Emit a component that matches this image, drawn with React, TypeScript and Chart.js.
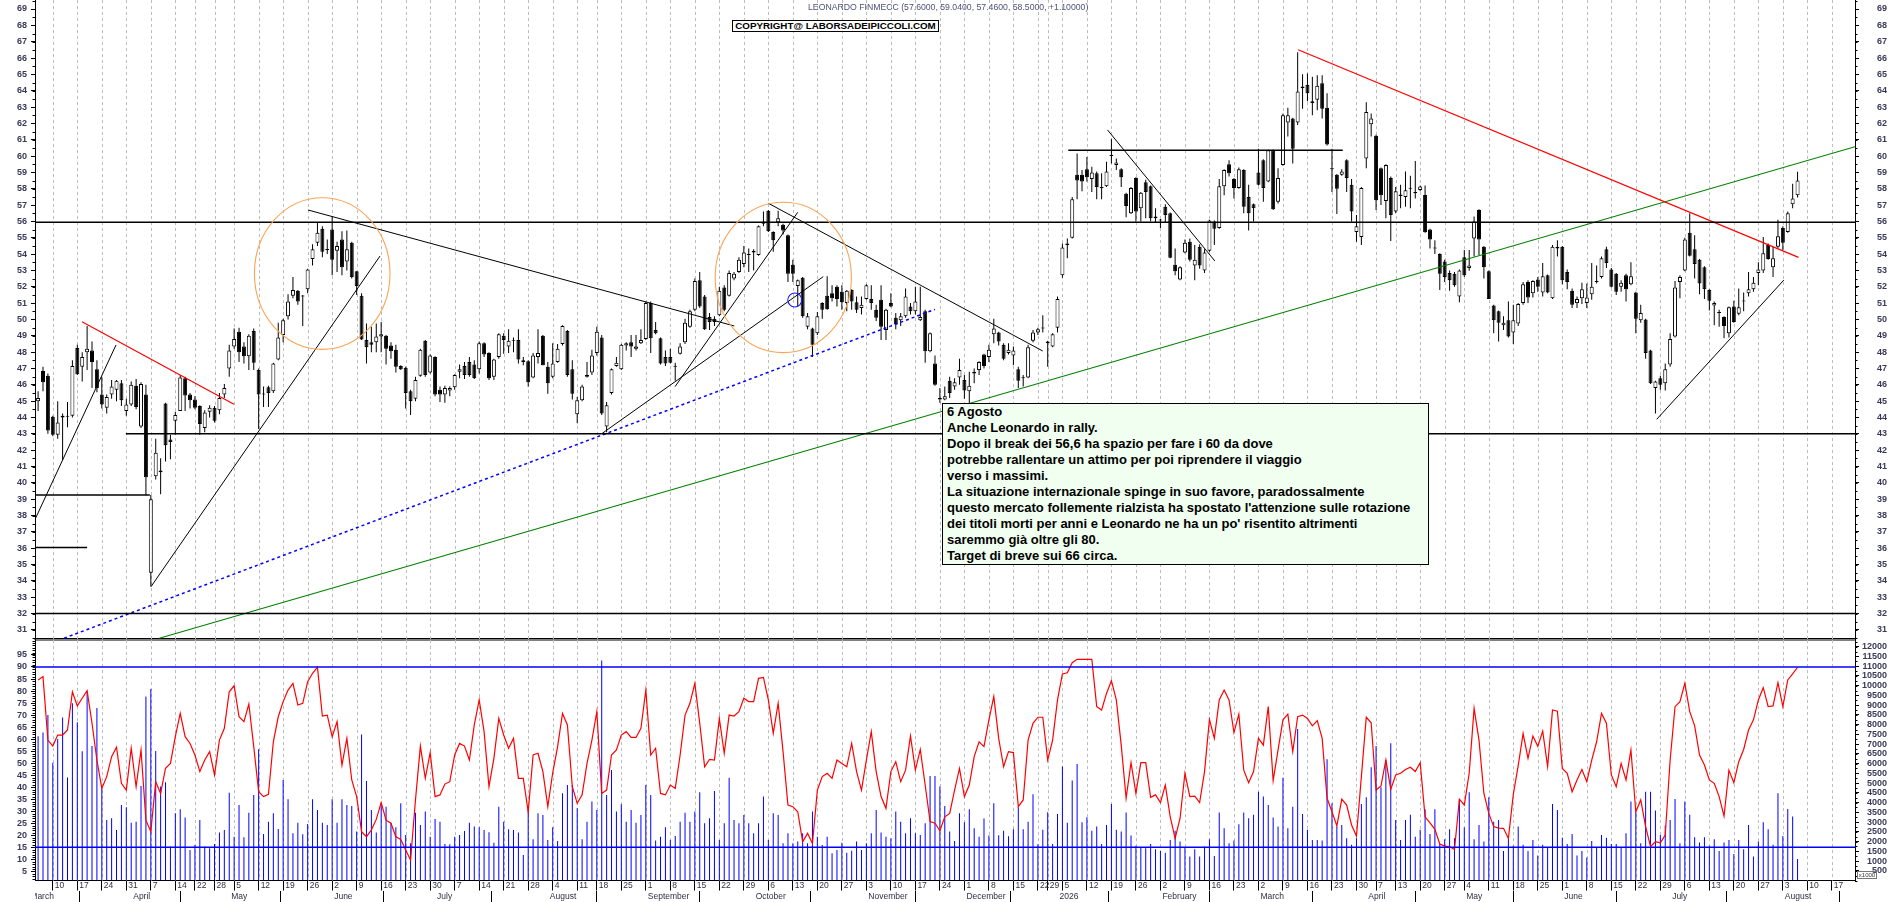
import React, { useEffect, useRef } from "react";
import { Chart, registerables } from "chart.js";

Chart.register(...registerables);

// ---------------- DATA (trading-day index 0 = 5 Mar 2025) ----------------
const OPEN = [
  45.0, 46.85, 46.55, 44.05, 42.95, 44.0, 44.1, 44.1, 48.25, 47.1,
  48.0, 48.1, 46.95, 45.4, 44.6, 45.4, 45.7, 46.1, 44.4, 44.8,
  45.95, 43.45, 45.4, 34.5, 40.4, 40.75, 44.85, 42.65, 43.8, 44.4,
  46.4, 45.4, 45.1, 44.7, 43.35, 44.35, 44.6, 44.45, 45.4, 47.0,
  48.35, 49.25, 48.35, 47.75, 49.3, 46.9, 45.45, 45.85, 45.6, 47.55,
  49.05, 50.2, 51.45, 51.75, 51.45, 51.85, 53.7, 54.7, 55.55, 54.3,
  55.5, 54.2, 54.9, 53.55, 54.7, 52.95, 51.45, 48.75, 48.6, 48.6,
  48.95, 49.0, 48.4, 48.15, 47.15, 47.05, 45.6, 45.15, 46.55, 48.7,
  46.75, 47.7, 45.7, 45.4, 45.65, 45.85, 46.8, 47.15, 47.4, 47.25,
  46.95, 48.55, 47.95, 46.5, 47.7, 49.0, 48.35, 48.7, 48.75, 47.5,
  47.45, 46.45, 47.7, 49.0, 47.1, 46.5, 47.4, 48.5, 49.3, 46.95,
  44.2, 45.05, 46.5, 46.75, 47.95, 48.9, 43.45, 45.5, 47.15, 46.95,
  48.4, 48.6, 48.2, 48.55, 48.8, 51.0, 49.35, 48.85, 47.7, 47.7,
  47.1, 47.9, 48.6, 49.55, 50.6, 52.4, 51.4, 50.15, 50.05, 50.25,
  51.95, 51.45, 52.5, 52.9, 53.4, 53.95, 54.2, 53.95, 56.0, 56.65,
  55.35, 55.95, 55.8, 55.15, 53.35, 52.05, 52.55, 49.55, 49.45, 49.15,
  51.0, 51.45, 51.6, 52.0, 51.7, 51.0, 51.8, 51.05, 50.7, 51.25,
  51.25, 50.6, 51.2, 49.35, 51.0, 50.1, 49.95, 50.2, 50.8, 50.5,
  49.95, 50.5, 48.05, 47.3, 45.2, 45.1, 46.25, 45.9, 46.45, 46.3,
  45.6, 46.8, 46.9, 47.85, 47.7, 49.1, 49.2, 48.45, 47.95, 47.8,
  46.95, 46.4, 46.45, 48.7, 49.2, 49.5, 48.65, 48.35, 49.5, 52.7,
  54.55, 55.0, 58.85, 58.85, 59.2, 58.6, 58.95, 58.05, 58.15, 60.0,
  59.45, 59.2, 57.7, 56.5, 58.65, 56.8, 58.4, 58.15, 56.2, 56.05,
  56.9, 56.5, 53.35, 52.45, 54.1, 54.75, 53.3, 54.45, 53.0, 54.2,
  56.0, 55.6, 58.15, 59.5, 58.6, 58.05, 59.15, 57.5, 57.05, 59.0,
  59.75, 58.45, 60.35, 57.2, 59.45, 62.05, 62.3, 62.05, 64.25, 64.35,
  63.25, 63.45, 64.45, 62.95, 59.2, 58.85, 58.85, 59.75, 58.25, 55.35,
  55.05, 59.85, 61.95, 61.25, 59.25, 57.25, 58.65, 56.6, 57.65, 57.5,
  58.0, 57.8, 57.92, 57.62, 55.5, 54.4, 54.0, 53.55, 52.85, 52.8,
  51.4, 53.8, 53.15, 54.95, 56.7, 54.45, 52.95, 50.85, 50.5, 49.65,
  49.95, 49.2, 49.75, 51.0, 52.3, 51.6, 52.45, 51.65, 52.7, 51.3,
  54.35, 54.45, 52.9, 51.75, 51.0, 51.3, 51.0, 51.55, 52.35, 52.6,
  54.3, 53.05, 52.8, 52.0, 52.7, 52.15, 51.65, 49.95, 50.0, 48.1,
  45.8, 46.4, 46.1, 47.25, 48.95, 52.3, 53.0, 55.3, 54.3, 53.65,
  53.2, 51.8, 50.85, 50.45, 50.15, 49.15, 50.8, 50.35, 51.15, 51.6,
  51.85, 52.85, 53.0, 54.55, 53.2, 54.45, 55.6, 55.35, 57.05, 57.6,
];
const HIGH = [
  45.6, 47.1, 46.7, 44.1, 45.0, 44.25, 44.95, 47.5, 48.45, 48.0,
  49.6, 48.65, 47.5, 46.5, 45.4, 46.3, 46.3, 46.3, 45.15, 46.2,
  46.35, 46.15, 46.0, 39.25, 42.7, 41.5, 44.9, 42.95, 44.35, 46.6,
  46.5, 45.5, 45.3, 44.75, 44.45, 44.75, 44.7, 45.5, 46.05, 48.45,
  49.45, 49.5, 48.6, 49.1, 49.45, 47.0, 45.9, 45.95, 47.35, 49.8,
  50.05, 51.55, 52.6, 51.8, 51.5, 53.1, 54.6, 55.95, 55.7, 54.9,
  56.3, 54.75, 55.4, 55.45, 54.75, 52.95, 51.6, 49.75, 49.55, 49.75,
  49.85, 49.05, 48.6, 48.45, 47.2, 47.1, 45.7, 46.5, 48.2, 48.75,
  47.85, 47.75, 45.9, 45.95, 45.9, 46.65, 47.25, 47.4, 47.7, 47.5,
  48.65, 48.6, 48.0, 47.6, 49.15, 49.15, 49.4, 48.9, 49.4, 47.7,
  47.5, 47.95, 49.4, 49.05, 47.4, 48.55, 48.5, 49.65, 49.35, 47.5,
  45.25, 46.0, 47.4, 48.15, 49.55, 49.05, 44.95, 47.0, 47.7, 48.5,
  48.6, 49.05, 49.05, 49.4, 51.1, 51.1, 49.85, 48.9, 48.1, 48.2,
  47.35, 48.55, 50.05, 50.6, 52.5, 52.9, 51.5, 50.4, 50.2, 52.0,
  52.1, 53.0, 52.9, 53.8, 54.5, 54.35, 54.3, 55.75, 56.6, 56.7,
  55.4, 56.65, 55.85, 55.2, 53.65, 52.45, 52.6, 50.4, 49.5, 50.45,
  51.05, 52.65, 52.1, 52.1, 52.1, 51.8, 51.85, 51.4, 51.4, 52.15,
  52.1, 50.9, 52.1, 50.65, 51.6, 50.4, 50.4, 51.9, 51.0, 52.0,
  52.0, 50.6, 49.2, 47.8, 45.8, 45.9, 46.5, 46.4, 47.6, 46.6,
  46.8, 47.0, 47.45, 47.9, 48.45, 50.05, 49.25, 48.55, 48.55, 48.35,
  47.1, 46.6, 48.45, 49.35, 49.5, 50.25, 48.7, 49.15, 51.4, 54.65,
  54.95, 57.5, 60.15, 59.15, 59.95, 59.35, 59.05, 58.95, 59.65, 61.05,
  59.85, 59.25, 57.75, 58.1, 58.7, 57.8, 58.55, 58.2, 56.8, 56.15,
  57.05, 56.55, 54.35, 53.25, 54.9, 54.95, 54.55, 54.6, 54.3, 56.1,
  56.05, 58.6, 59.2, 59.75, 58.65, 59.3, 59.2, 58.25, 57.1, 60.45,
  59.8, 60.4, 60.4, 59.25, 62.6, 62.95, 62.35, 66.35, 65.0, 65.05,
  64.85, 64.95, 64.95, 63.85, 60.45, 58.9, 59.2, 59.8, 58.6, 56.4,
  58.1, 63.3, 62.6, 61.3, 59.3, 59.5, 58.75, 58.1, 58.25, 59.05,
  58.8, 59.7, 58.2, 58.2, 55.55, 54.85, 54.05, 53.65, 53.0, 52.9,
  53.05, 54.25, 54.25, 56.3, 56.75, 54.5, 53.0, 50.9, 50.55, 50.2,
  51.1, 50.9, 51.0, 52.3, 52.4, 52.4, 52.6, 53.45, 52.75, 54.55,
  54.85, 54.5, 53.05, 51.9, 51.4, 52.25, 52.2, 53.45, 53.3, 53.85,
  54.45, 53.15, 52.85, 52.4, 52.8, 53.5, 51.7, 50.9, 50.05, 48.15,
  46.25, 46.55, 47.3, 49.15, 52.35, 52.7, 55.0, 56.5, 55.15, 53.7,
  53.25, 51.85, 51.1, 50.6, 50.2, 50.8, 51.15, 51.9, 51.65, 52.9,
  52.6, 53.5, 55.05, 54.65, 54.45, 56.1, 55.7, 56.6, 58.3, 59.04,
];
const LOW = [
  44.4, 45.6, 43.0, 42.85, 42.7, 41.4, 43.4, 44.0, 46.6, 46.2,
  46.9, 45.8, 45.55, 44.55, 44.25, 45.15, 45.0, 44.7, 44.1, 44.7,
  44.5, 43.35, 39.25, 33.65, 40.2, 39.3, 41.3, 41.45, 42.95, 44.4,
  44.4, 44.55, 44.5, 42.95, 43.1, 44.0, 43.7, 44.2, 45.2, 46.5,
  48.2, 47.4, 47.3, 46.9, 46.9, 43.3, 44.65, 44.65, 45.5, 47.5,
  48.6, 50.0, 51.3, 50.9, 49.6, 51.6, 53.3, 54.5, 53.8, 54.0,
  52.7, 52.9, 52.7, 53.0, 52.5, 51.5, 48.75, 47.3, 48.0, 48.0,
  48.0, 47.25, 47.6, 46.75, 46.9, 44.55, 44.15, 45.0, 46.5, 46.5,
  46.7, 45.3, 44.95, 44.9, 45.3, 45.7, 46.4, 46.35, 46.5, 46.35,
  46.7, 47.7, 46.3, 46.3, 47.6, 47.9, 47.95, 48.0, 47.3, 47.2,
  45.9, 46.4, 47.3, 47.2, 45.45, 46.4, 47.35, 48.4, 46.5, 45.1,
  43.65, 45.0, 46.45, 46.6, 47.8, 44.15, 43.1, 45.4, 47.1, 46.9,
  48.1, 47.7, 48.1, 48.5, 48.75, 47.95, 49.1, 47.25, 47.15, 47.3,
  46.25, 47.85, 48.5, 49.5, 50.5, 50.7, 49.35, 49.35, 49.6, 50.2,
  50.5, 51.4, 52.4, 52.85, 53.2, 52.9, 53.0, 53.9, 55.7, 55.35,
  54.15, 55.7, 55.2, 52.3, 52.3, 50.8, 50.1, 49.4, 47.7, 49.05,
  50.05, 50.6, 51.1, 50.8, 50.6, 50.5, 50.6, 50.4, 50.3, 51.2,
  50.6, 49.9, 48.75, 48.75, 50.75, 49.4, 49.6, 50.1, 50.3, 50.3,
  49.9, 47.35, 48.0, 45.95, 44.9, 45.05, 45.2, 45.7, 46.0, 45.15,
  44.85, 46.1, 46.6, 47.0, 47.4, 48.55, 48.4, 47.5, 47.85, 47.2,
  45.8, 45.9, 46.4, 48.6, 49.05, 49.2, 47.1, 48.3, 49.2, 52.55,
  53.75, 54.95, 57.35, 57.85, 58.45, 57.8, 57.35, 57.35, 58.1, 59.55,
  59.15, 58.1, 56.25, 56.45, 56.0, 56.0, 56.2, 56.0, 55.9, 55.6,
  55.9, 53.75, 52.7, 52.4, 54.05, 53.55, 52.4, 53.1, 52.85, 54.15,
  54.55, 55.55, 57.6, 58.75, 57.4, 58.0, 56.5, 55.45, 56.0, 58.2,
  57.2, 58.4, 56.7, 57.1, 59.4, 61.2, 59.55, 61.9, 62.9, 63.35,
  62.5, 62.8, 62.3, 60.65, 57.8, 56.45, 58.8, 57.8, 56.0, 54.75,
  54.55, 59.25, 61.2, 56.7, 57.0, 56.2, 54.8, 56.5, 56.8, 56.9,
  56.8, 57.4, 57.85, 55.3, 54.35, 54.0, 51.8, 52.3, 51.75, 52.0,
  51.05, 52.6, 52.98, 53.85, 53.95, 52.5, 51.25, 49.15, 48.65, 49.35,
  48.9, 48.5, 49.6, 50.9, 51.0, 51.35, 51.7, 51.4, 51.6, 51.25,
  53.85, 52.15, 51.85, 50.7, 50.7, 50.95, 50.7, 51.2, 52.2, 52.5,
  53.15, 51.95, 51.5, 51.7, 51.1, 52.1, 49.15, 49.8, 47.6, 46.05,
  44.25, 45.7, 45.65, 47.1, 48.9, 51.3, 52.95, 53.85, 52.5, 51.55,
  51.25, 50.55, 49.65, 49.55, 48.85, 48.9, 49.8, 50.25, 50.5, 51.4,
  51.7, 52.1, 52.85, 53.65, 52.6, 54.35, 54.25, 55.3, 56.8, 57.46,
];
const CLOSE = [
  45.2, 46.15, 43.2, 42.95, 43.7, 44.1, 44.05, 47.15, 46.65, 47.7,
  48.2, 47.4, 45.8, 44.8, 45.25, 45.9, 46.25, 45.05, 44.8, 46.0,
  44.65, 46.05, 40.35, 39.0, 41.85, 40.65, 42.3, 42.5, 44.15, 46.45,
  45.35, 45.05, 44.6, 43.6, 44.3, 44.6, 43.8, 45.2, 45.8, 48.1,
  48.8, 48.0, 47.75, 49.0, 47.35, 45.4, 45.4, 45.5, 47.3, 48.9,
  49.95, 51.1, 51.8, 51.1, 51.4, 53.05, 54.3, 55.3, 54.15, 54.25,
  53.65, 54.5, 53.2, 54.3, 52.6, 52.05, 48.78, 48.3, 48.45, 48.95,
  49.1, 48.2, 48.05, 47.1, 46.95, 45.5, 45.0, 46.3, 48.15, 46.6,
  47.8, 45.4, 45.4, 45.8, 45.8, 46.6, 46.95, 46.6, 46.6, 46.4,
  48.55, 47.85, 46.4, 47.55, 49.1, 48.75, 48.7, 48.72, 47.55, 47.4,
  46.15, 47.8, 47.95, 47.2, 46.1, 47.3, 48.2, 49.6, 46.6, 45.45,
  45.05, 45.9, 46.6, 47.8, 49.25, 44.25, 44.75, 46.95, 47.35, 48.45,
  48.55, 48.35, 48.35, 48.75, 51.0, 48.85, 49.15, 47.3, 47.3, 47.35,
  47.15, 48.35, 49.8, 50.5, 52.35, 50.8, 49.4, 49.85, 49.85, 51.75,
  50.6, 52.85, 52.8, 53.65, 54.1, 54.0, 54.1, 55.7, 55.85, 55.4,
  54.85, 56.2, 55.45, 52.8, 52.8, 52.4, 50.2, 50.2, 48.45, 50.2,
  50.6, 50.62, 51.3, 51.25, 51.05, 51.75, 51.1, 50.6, 50.9, 52.1,
  51.0, 50.1, 49.55, 50.6, 50.8, 49.7, 50.2, 51.4, 50.5, 51.1,
  50.15, 48.05, 49.15, 46.0, 45.1, 45.3, 45.5, 46.15, 46.9, 45.65,
  45.95, 46.7, 47.4, 47.15, 48.15, 49.45, 48.65, 47.6, 48.15, 48.1,
  46.25, 46.45, 48.3, 49.2, 49.4, 49.45, 48.55, 49.1, 51.25, 54.4,
  54.65, 57.35, 58.5, 58.45, 58.7, 59.0, 58.1, 58.1, 59.05, 60.05,
  59.6, 58.7, 56.95, 58.05, 56.6, 57.75, 57.8, 56.2, 56.3, 56.1,
  56.4, 53.78, 52.95, 53.2, 54.7, 53.65, 53.65, 53.3, 54.1, 56.05,
  55.55, 58.15, 59.15, 58.95, 58.05, 59.2, 56.9, 56.5, 56.8, 58.25,
  58.05, 60.35, 56.75, 58.65, 62.5, 62.5, 60.45, 63.95, 64.15, 63.85,
  63.35, 64.3, 62.9, 60.7, 59.22, 58.0, 59.05, 58.65, 56.6, 55.7,
  58.05, 62.7, 62.3, 57.3, 57.6, 59.45, 56.4, 57.85, 57.55, 57.9,
  58.02, 57.72, 58.13, 55.33, 54.9, 54.35, 52.8, 52.6, 52.4, 52.1,
  53.0, 52.7, 53.3, 56.0, 54.9, 53.2, 51.25, 49.95, 49.8, 49.8,
  48.95, 49.95, 50.95, 52.15, 51.35, 52.35, 52.0, 52.65, 51.65, 54.45,
  54.45, 52.4, 52.3, 50.9, 51.25, 51.85, 51.35, 52.0, 52.3, 53.75,
  53.45, 52.0, 51.7, 52.25, 51.85, 52.65, 50.05, 50.4, 47.95, 46.1,
  46.2, 46.0, 46.95, 48.8, 51.95, 52.6, 54.9, 53.9, 53.4, 52.2,
  51.85, 51.15, 51.0, 50.4, 49.6, 50.75, 49.85, 50.75, 51.1, 51.85,
  52.25, 53.05, 54.05, 53.7, 53.75, 55.1, 54.7, 56.5, 57.4, 58.5,
];
// volume in thousands of shares
const VOLUME = [
  7400, 7600, 8500, 6050, 7260, 8370, 5290, 9100, 8130, 6640,
  9700, 6900, 8850, 4730, 3110, 3190, 2590, 3880, 3760, 2970,
  3020, 4850, 9440, 9830, 6650, 4820, 5040, 1740, 3450, 3660,
  3230, 1570, 1820, 3110, 1740, 1650, 1880, 2460, 2590, 4510,
  2250, 3880, 2220, 3480, 4390, 6740, 2390, 3020, 3450, 2650,
  5160, 4170, 2420, 2970, 2370, 2900, 4170, 3620, 2970, 2850,
  4170, 2970, 4170, 3880, 3830, 2510, 7500, 5110, 3620, 2460,
  3960, 3790, 2970, 2730, 3960, 2340, 1910, 3480, 2850, 3540,
  2250, 3160, 3020, 1880, 1860, 2250, 2340, 2540, 2970, 2770,
  2730, 2590, 2480, 1940, 3790, 3020, 2630, 2590, 2460, 1310,
  3790, 2120, 3450, 3360, 2080, 2730, 2030, 4480, 4900, 4900,
  3710, 2120, 3020, 4050, 3620, 11290, 4390, 5670, 3540, 3910,
  3020, 3620, 2970, 3360, 4900, 4390, 2050, 2250, 2730, 2080,
  2290, 3020, 3480, 3020, 3540, 4530, 2940, 3190, 4600, 2080,
  2940, 5280, 3110, 2940, 3360, 2940, 2420, 2940, 4310, 2080,
  3450, 3360, 1910, 2420, 1910, 2000, 2420, 1910, 3540, 2250,
  1820, 2250, 1400, 1570, 1940, 1430, 1530, 2000, 1570, 1910,
  2420, 3620, 2460, 2250, 2170, 3540, 3020, 2420, 3190, 2420,
  2340, 2940, 5370, 5370, 4820, 3830, 2510, 2030, 3450, 2990,
  3660, 2680, 2250, 3180, 2310, 3970, 2320, 2550, 2270, 2630,
  3760, 2630, 3020, 4430, 1860, 2600, 3500, 1880, 3420, 5850,
  2970, 5130, 5980, 2990, 3250, 2560, 2770, 1880, 2850, 3930,
  2600, 2510, 3490, 2310, 1780, 1710, 1660, 1880, 1600, 1520,
  1430, 2080, 2560, 2000, 1710, 1230, 1600, 1230, 1740, 2120,
  1260, 3490, 2680, 1910, 2050, 2890, 3490, 3200, 3370, 4560,
  4310, 3880, 3230, 2770, 5280, 2680, 3790, 7780, 3420, 2600,
  2080, 2080, 2050, 6220, 3970, 2770, 2850, 2170, 1830, 2170,
  3930, 4270, 5810, 6910, 4790, 6190, 7050, 3110, 2080, 3110,
  3370, 2250, 2600, 3660, 2390, 3660, 1880, 2120, 2630, 2170,
  4170, 2720, 4530, 2120, 2850, 2000, 4270, 3020, 3110, 1520,
  2200, 1780, 2770, 1830, 1520, 2080, 1280, 1830, 1710, 3930,
  3620, 2200, 1880, 2390, 1280, 1520, 1180, 2030, 1710, 2340,
  2200, 1880, 1880, 1710, 2430, 4050, 3540, 1910, 4560, 4560,
  3590, 2340, 2820, 3110, 4190, 1910, 4050, 3370, 2220, 1950,
  2220, 1780, 2120, 1520, 1950, 2080, 1360, 2080, 1600, 2850,
  1230, 2000, 2990, 2630, 1830, 4480, 2290, 3670, 3280, 1110,
];
// oscillator (left scale of the lower pane)
const OSC = [
  84.6, 86.0, 59.6, 57.1, 61.7, 61.7, 63.8, 79.7, 73.8, 77.0,
  80.2, 66.6, 51.3, 39.5, 44.4, 52.7, 56.6, 41.6, 38.8, 56.2,
  40.2, 55.5, 26.3, 21.5, 42.3, 37.4, 47.9, 49.9, 61.0, 70.7,
  61.0, 58.2, 53.4, 46.5, 51.3, 54.8, 45.1, 59.6, 64.5, 79.7,
  82.2, 69.3, 67.3, 74.6, 56.9, 38.1, 36.1, 37.0, 58.9, 69.3,
  75.6, 80.4, 83.2, 74.2, 74.9, 83.9, 87.4, 89.9, 69.6, 70.0,
  61.0, 67.3, 49.2, 60.3, 43.0, 36.1, 21.5, 19.4, 22.2, 26.6,
  33.6, 26.3, 25.0, 19.4, 18.3, 13.9, 9.7, 34.7, 57.1, 43.7,
  54.4, 36.1, 36.8, 41.3, 42.3, 53.4, 58.2, 57.1, 51.3, 65.9,
  76.3, 63.1, 40.2, 52.0, 68.6, 61.7, 56.2, 60.3, 43.7, 43.7,
  29.8, 53.4, 54.1, 46.5, 31.9, 46.0, 56.9, 70.7, 65.9, 40.2,
  33.3, 36.8, 49.9, 59.6, 71.4, 37.4, 38.8, 53.4, 55.5, 61.7,
  63.1, 60.7, 60.7, 64.5, 80.4, 53.4, 56.2, 37.4, 36.8, 40.9,
  39.5, 53.4, 70.0, 74.9, 83.2, 66.6, 48.5, 51.6, 51.3, 68.6,
  54.1, 70.0, 69.6, 71.4, 77.0, 75.6, 75.6, 85.3, 85.7, 76.3,
  62.4, 74.9, 54.8, 32.6, 31.9, 29.8, 17.3, 20.8, 16.6, 38.8,
  44.4, 45.8, 43.7, 51.3, 49.9, 48.5, 58.2, 46.5, 38.8, 51.3,
  63.1, 46.5, 36.1, 31.2, 46.5, 50.6, 42.3, 47.1, 61.3, 47.1,
  55.7, 40.9, 25.7, 25.0, 21.9, 27.7, 29.1, 38.8, 47.8, 36.1,
  40.9, 52.7, 58.9, 56.9, 68.0, 77.7, 60.3, 48.5, 54.8, 54.4,
  31.9, 34.7, 59.6, 66.6, 69.1, 69.1, 51.3, 59.6, 76.3, 87.1,
  87.6, 91.8, 93.2, 93.2, 93.2, 93.2, 73.5, 72.1, 79.0, 84.3,
  76.3, 57.5, 35.4, 50.2, 37.4, 50.2, 50.2, 35.8, 36.8, 33.6,
  40.9, 27.7, 18.7, 27.0, 45.8, 36.1, 36.3, 33.6, 46.5, 68.2,
  60.3, 76.3, 80.4, 76.3, 62.7, 70.4, 47.1, 41.9, 46.5, 60.3,
  57.5, 73.5, 42.7, 55.5, 68.0, 70.4, 54.8, 69.3, 70.0, 68.6,
  65.5, 67.7, 60.3, 35.4, 29.8, 23.9, 35.0, 32.6, 24.3, 19.7,
  44.4, 69.1, 66.8, 38.8, 40.5, 51.3, 39.1, 45.1, 45.8, 47.4,
  48.3, 46.5, 50.2, 27.7, 25.2, 22.5, 16.4, 15.5, 15.3, 14.1,
  35.0, 32.6, 45.8, 72.8, 59.6, 37.4, 29.1, 23.6, 23.0, 22.9,
  18.7, 37.0, 49.0, 62.3, 52.0, 61.3, 57.0, 63.3, 48.6, 72.1,
  71.6, 47.8, 45.8, 38.1, 43.0, 47.4, 42.3, 51.3, 58.9, 70.7,
  66.6, 45.1, 40.2, 49.9, 43.0, 55.5, 29.8, 34.7, 23.6, 15.3,
  17.3, 16.9, 20.1, 51.3, 73.5, 75.6, 83.2, 71.4, 65.6, 53.4,
  49.2, 43.0, 41.6, 36.1, 28.0, 47.1, 41.9, 50.6, 55.7, 63.8,
  68.0, 76.3, 81.4, 73.5, 73.8, 83.5, 73.5, 84.6, 87.1, 89.9,
];
const OSC_LEVELS = [90, 15];

// weekly ticks (first trading day of each week) and their day-of-month labels
const WEEK_TICKS = [
  3, 8, 13, 18, 23, 28, 32, 36, 40, 45, 50, 55, 60, 65, 70, 75, 80, 85, 90, 95,
  100, 105, 110, 114, 119, 124, 129, 134, 139, 144, 149, 154, 159, 164, 169, 174, 179, 184, 189, 194,
  199, 204, 206, 209, 214, 219, 224, 229, 234, 239, 244, 249, 254, 259, 264, 269, 273, 277, 282, 287,
  291, 296, 301, 306, 311, 316, 321, 326, 331, 336, 341, 346, 351, 356, 361, 366,
];
const WEEK_LABELS = [
  "10", "17", "24", "31", "7", "14", "22", "28", "5", "12", "19", "26", "2", "9", "16", "23", "30", "7", "14", "21",
  "28", "4", "11", "18", "25", "1", "8", "15", "22", "29", "6", "13", "20", "27", "3", "10", "17", "24", "1", "8",
  "15", "22", "29", "5", "12", "19", "26", "2", "9", "16", "23", "2", "9", "16", "23", "30", "7", "13", "20", "27",
  "4", "11", "18", "25", "1", "8", "15", "22", "29", "6", "13", "20", "27", "3", "10", "17",
];
const MONTH_TICKS = [-2, 19, 39, 60, 81, 104, 124, 146, 169, 189, 208, 229, 249, 271, 291, 311, 333, 356];
const MONTH_LABELS = [
  "March", "April", "May", "June", "July", "August", "September", "October", "November", "December",
  "2026", "February", "March", "April", "May", "June", "July", "August",
];

// hand-drawn analysis lines, in data units [x1, y1, x2, y2]
const LEVEL_LINES = [
  [-0.632, 55.95, 370.72, 55.95],
  [17.9, 43.0, 370.72, 43.0],
  [-0.632, 39.25, 22.8, 39.25],
  [-0.632, 36.05, 10.0, 36.05],
  [-0.632, 32.0, 370.72, 32.0],
  [210.2, 60.35, 266.2, 60.35],
];
const BLACK_TRENDS = [
  [-0.49, 37.85, 15.9, 48.44],
  [23.04, 33.65, 69.76, 53.88],
  [55.07, 56.7, 142.05, 49.6],
  [115.1, 43.03, 160.2, 52.62],
  [129.96, 45.89, 155.0, 56.56],
  [149.0, 57.11, 204.98, 48.07],
  [218.2, 61.6, 240.1, 53.58],
  [330.26, 43.89, 356.2, 52.41],
];
const RED_TRENDS = [
  [8.96, 49.86, 39.97, 44.81],
  [257.1, 66.51, 359.2, 53.8],
];
const GREEN_TRENDS = [[24.73, 30.49, 370.72, 60.57]];
const BLUE_DASHED = [[5.29, 30.49, 183.0, 50.62]];
// ellipses: centre x, centre y, radius x (days), radius y (price)
const ORANGE_ELLIPSES = [
  [57.97, 52.81, 13.83, 4.64],
  [152.05, 52.57, 13.9, 4.6],
];
const BLUE_CIRCLES = [[154.4, 51.19, 1.43, 0.43]];

const NOTE_LINES = [
  "6 Agosto",
  "Anche Leonardo in rally.",
  "Dopo il break dei 56,6 ha spazio per fare i 60 da dove",
  "potrebbe rallentare un attimo per poi riprendere il viaggio",
  "verso i massimi.",
  "La situazione internazionale spinge in suo favore, paradossalmente",
  "questo mercato follemente rialzista ha spostato l'attenzione sulle rotazione",
  "dei titoli morti per anni e Leonardo ne ha un po' risentito altrimenti",
  "saremmo già oltre gli 80.",
  "Target di breve sui 66 circa.",
];
const TITLE = "LEONARDO FINMECC (57.6000, 59.0400, 57.4600, 58.5000, +1.10000)";
const COPYRIGHT = "COPYRIGHT@ LABORSADEIPICCOLI.COM";

// ---------------- axis ranges / styles ----------------
const X_MIN = -0.632;
const X_MAX = 370.72;
const PRICE_MIN = 30.444;
const PRICE_MAX = 69.551;
const OSC_MIN = 1.19;
const OSC_MAX = 101.23;
const VOL_MAX = 12347;
const GRID_COLOR = "#bdbdbd";
const LABEL_COLOR = "#3a3a58";
const FONT = "'Liberation Sans', Arial, sans-serif";

function range(a: number, b: number, step: number) {
  const out: number[] = [];
  for (let v = a; v <= b + 1e-9; v += step) out.push(Math.round(v * 1000) / 1000);
  return out;
}
const PRICE_TICKS = range(31, 69, 1);
const OSC_TICKS = range(5, 95, 5);
const VOL_TICKS = range(500, 12000, 500);

function drawMinorTicks(chart: any, id: string, step: number, len: number, side: string) {
  const sc = chart.scales[id];
  const ctx = chart.ctx;
  ctx.save();
  ctx.strokeStyle = "#000";
  ctx.lineWidth = 1;
  ctx.beginPath();
  const n0 = Math.ceil(sc.min / step);
  const n1 = Math.floor(sc.max / step);
  for (let n = n0; n <= n1; n++) {
    const y = Math.round(sc.getPixelForValue(n * step)) + 0.5;
    if (side === "left") {
      ctx.moveTo(sc.right - len, y);
      ctx.lineTo(sc.right, y);
    } else {
      ctx.moveTo(sc.left, y);
      ctx.lineTo(sc.left + len, y);
    }
  }
  ctx.stroke();
  ctx.restore();
}

// weekly dashed grid, positioned through the x scale
function drawWeekGrid(chart: any) {
  const { ctx, chartArea, scales } = chart;
  const x = scales.x;
  ctx.save();
  ctx.strokeStyle = GRID_COLOR;
  ctx.lineWidth = 1;
  ctx.setLineDash([3, 3]);
  ctx.beginPath();
  for (const v of WEEK_TICKS) {
    const px = Math.round(x.getPixelForValue(v)) + 0.5;
    if (px < chartArea.left || px > chartArea.right) continue;
    ctx.moveTo(px, chartArea.top);
    ctx.lineTo(px, chartArea.bottom);
  }
  ctx.stroke();
  ctx.restore();
}

function segDatasets(list: number[][], color: string, width: number, dash: number[] = []) {
  return list.map((p) => ({
    type: "line",
    data: [
      { x: p[0], y: p[1] },
      { x: p[2], y: p[3] },
    ],
    borderColor: color,
    borderWidth: width,
    borderDash: dash,
    pointRadius: 0,
    fill: false,
    tension: 0,
    xAxisID: "x",
    yAxisID: "y",
    order: 0,
  }));
}

const noFitPad = (s: any) => {
  s.paddingTop = 0;
  s.paddingBottom = 0;
  s.paddingLeft = 0;
  s.paddingRight = 0;
};

export default function App() {
  const refA = useRef<HTMLCanvasElement>(null);
  const refB = useRef<HTMLCanvasElement>(null);

  useEffect(() => {
    Chart.defaults.font.family = FONT;

    const bodies = {
      type: "bar",
      data: OPEN.map((o, i) => ({ x: i, y: [o, CLOSE[i]] })),
      backgroundColor: OPEN.map((o, i) => (CLOSE[i] >= o ? "#ffffff" : "#000000")),
      borderColor: "#000000",
      borderWidth: 1,
      borderSkipped: false,
      barThickness: 4,
      minBarLength: 1,
      inflateAmount: 0,
      grouped: false,
      order: 1,
    };
    const wicks = {
      type: "bar",
      data: LOW.map((l, i) => ({ x: i, y: [l, HIGH[i]] })),
      backgroundColor: "#000000",
      borderWidth: 0,
      barThickness: 1,
      inflateAmount: 0,
      grouped: false,
      order: 2,
    };

    const shapesPlugin = {
      id: "shapes",
      beforeDatasetsDraw(chart: any) {
        drawWeekGrid(chart);
      },
      afterDatasetsDraw(chart: any) {
        const { ctx, chartArea, scales } = chart;
        const x = scales.x;
        const y = scales.y;
        ctx.save();
        ctx.beginPath();
        ctx.rect(chartArea.left, chartArea.top, chartArea.right - chartArea.left, chartArea.bottom - chartArea.top);
        ctx.clip();
        const drawEll = (list: number[][], color: string, w: number) => {
          for (const e of list) {
            const cx = x.getPixelForValue(e[0]);
            const cy = y.getPixelForValue(e[1]);
            const rx = Math.abs(x.getPixelForValue(e[0] + e[2]) - cx);
            const ry = Math.abs(y.getPixelForValue(e[1] + e[3]) - cy);
            ctx.beginPath();
            ctx.ellipse(cx, cy, rx, ry, 0, 0, Math.PI * 2);
            ctx.strokeStyle = color;
            ctx.lineWidth = w;
            ctx.stroke();
          }
        };
        drawEll(ORANGE_ELLIPSES, "#f9a555", 1.1);
        drawEll(BLUE_CIRCLES, "#1a1aff", 1.1);
        ctx.restore();
        drawMinorTicks(chart, "y", 0.5, 2.5, "left");
        drawMinorTicks(chart, "yR", 0.5, 2.5, "right");
      },
    };

    const priceAxis = (pos: string, width: number) => ({
      type: "linear",
      position: pos,
      min: PRICE_MIN,
      max: PRICE_MAX,
      afterBuildTicks: (s: any) => {
        s.ticks = PRICE_TICKS.map((v) => ({ value: v }));
      },
      ticks: {
        font: { size: 9, weight: "bold" },
        color: LABEL_COLOR,
        padding: 4,
        autoSkip: false,
        crossAlign: pos === "right" ? "far" : "near",
        callback: (v: any) => String(v),
      },
      grid: { display: true, drawOnChartArea: false, drawTicks: true, tickLength: 4, tickColor: "#000", tickWidth: 1 },
      border: { display: true, color: "#000", width: 1 },
      afterFit: (s: any) => {
        s.width = width;
        noFitPad(s);
      },
    });

    const chartA = new Chart(refA.current as HTMLCanvasElement, {
      type: "bar",
      data: {
        datasets: [
          ...segDatasets(LEVEL_LINES, "#000000", 1.5),
          ...segDatasets(BLACK_TRENDS, "#000000", 1),
          ...segDatasets(RED_TRENDS, "#ff0000", 1.2),
          ...segDatasets(GREEN_TRENDS, "#008000", 1.2),
          ...segDatasets(BLUE_DASHED, "#0000ff", 1.5, [3, 3]),
          bodies,
          wicks,
        ] as any,
      },
      options: {
        responsive: false,
        animation: false,
        events: [],
        layout: { padding: { left: 0, right: 3, top: 0, bottom: 1 }, autoPadding: false },
        plugins: { legend: { display: false }, tooltip: { enabled: false } },
        scales: {
          x: {
            type: "linear",
            min: X_MIN,
            max: X_MAX,
            offset: false,
            afterBuildTicks: (s: any) => {
              s.ticks = WEEK_TICKS.map((v) => ({ value: v }));
            },
            ticks: { display: false },
            grid: { display: false, offset: false },
            border: { display: true, color: "#000", width: 1.5 },
            afterFit: (s: any) => {
              s.height = 0;
              noFitPad(s);
            },
          },
          y: priceAxis("left", 35),
          yR: priceAxis("right", 32),
        } as any,
      } as any,
      plugins: [shapesPlugin],
    } as any);

    // ---------------- lower pane ----------------
    const lowerPlugin = {
      id: "lower",
      beforeDatasetsDraw(chart: any) {
        drawWeekGrid(chart);
      },
      afterDatasetsDraw(chart: any) {
        drawMinorTicks(chart, "osc", 1, 2.5, "left");
        drawMinorTicks(chart, "vol", 250, 2.5, "right");
        const { ctx, chartArea } = chart;
        ctx.save();
        ctx.beginPath();
        ctx.rect(chartArea.left, 0, chart.width - chartArea.left, chart.height);
        ctx.clip();
      },
      afterDraw(chart: any) {
        chart.ctx.restore();
      },
    };

    const oscLevels = OSC_LEVELS.map((lv) => ({
      type: "line",
      data: [
        { x: X_MIN, y: lv },
        { x: X_MAX, y: lv },
      ],
      borderColor: "#0000ff",
      borderWidth: 1.5,
      pointRadius: 0,
      fill: false,
      yAxisID: "osc",
      xAxisID: "x",
      order: 0,
    }));

    const chartB = new Chart(refB.current as HTMLCanvasElement, {
      type: "bar",
      data: {
        datasets: [
          ...oscLevels,
          {
            type: "line",
            data: OSC.map((v, i) => ({ x: i, y: v })),
            borderColor: "#ff0000",
            borderWidth: 1.2,
            pointRadius: 0,
            fill: false,
            tension: 0,
            yAxisID: "osc",
            xAxisID: "x",
            order: 1,
          },
          {
            type: "bar",
            data: VOLUME.map((v, i) => ({ x: i, y: v })),
            backgroundColor: "#0000ff",
            borderWidth: 0,
            barThickness: 1,
            inflateAmount: 0,
            grouped: false,
            yAxisID: "vol",
            xAxisID: "x",
            order: 2,
          },
        ] as any,
      },
      options: {
        responsive: false,
        animation: false,
        events: [],
        layout: { padding: { left: 0, right: 3, top: 0, bottom: 0 }, autoPadding: false },
        plugins: { legend: { display: false }, tooltip: { enabled: false } },
        scales: {
          x: {
            type: "linear",
            position: "bottom",
            weight: 0,
            min: X_MIN,
            max: X_MAX,
            offset: false,
            afterBuildTicks: (s: any) => {
              s.ticks = WEEK_TICKS.map((v) => ({ value: v }));
            },
            ticks: {
              callback: (_v: any, i: number) => WEEK_LABELS[i],
              align: "start",
              labelOffset: 2,
              padding: -10.4,
              font: { size: 8.5 },
              color: "#303040",
              autoSkip: false,
              maxRotation: 0,
              minRotation: 0,
            },
            grid: {
              display: true,
              drawOnChartArea: false,
              drawTicks: true,
              tickLength: 10,
              tickColor: "#000",
              tickBorderDash: [],
              offset: false,
            },
            border: { display: true, color: "#000", width: 1 },
            afterFit: (s: any) => {
              s.height = 10;
              noFitPad(s);
            },
          },
          xm: {
            type: "linear",
            position: "bottom",
            weight: 1,
            min: X_MIN,
            max: X_MAX,
            offset: false,
            afterBuildTicks: (s: any) => {
              s.ticks = MONTH_TICKS.map((v) => ({ value: v }));
            },
            ticks: {
              callback: (_v: any, i: number) => MONTH_LABELS[i],
              align: "start",
              labelOffset: 2,
              padding: -10.6,
              font: { size: 8.5 },
              color: "#303040",
              autoSkip: false,
              maxRotation: 0,
              minRotation: 0,
              z: 1,
            },
            grid: { display: true, drawOnChartArea: false, drawTicks: true, tickLength: 11.5, tickColor: "#000", z: 1 },
            border: { display: true, color: "#000", width: 1 },
            afterFit: (s: any) => {
              s.height = 11.5;
              noFitPad(s);
            },
          },
          osc: {
            type: "linear",
            position: "left",
            min: OSC_MIN,
            max: OSC_MAX,
            afterBuildTicks: (s: any) => {
              s.ticks = OSC_TICKS.map((v) => ({ value: v }));
            },
            ticks: { font: { size: 9, weight: "bold" }, color: LABEL_COLOR, padding: 4, autoSkip: false },
            grid: { display: true, drawOnChartArea: false, drawTicks: true, tickLength: 4, tickColor: "#000" },
            border: { display: true, color: "#000", width: 1 },
            afterFit: (s: any) => {
              s.width = 35;
              noFitPad(s);
            },
          },
          vol: {
            type: "linear",
            position: "right",
            min: 0,
            max: VOL_MAX,
            afterBuildTicks: (s: any) => {
              s.ticks = VOL_TICKS.map((v) => ({ value: v }));
            },
            ticks: {
              font: { size: 9, weight: "bold" },
              color: LABEL_COLOR,
              padding: 4,
              autoSkip: false,
              crossAlign: "far",
              callback: (v: any) => String(v),
            },
            grid: { display: true, drawOnChartArea: false, drawTicks: true, tickLength: 4, tickColor: "#000" },
            border: { display: true, color: "#000", width: 1 },
            afterFit: (s: any) => {
              s.width = 32;
              noFitPad(s);
            },
          },
        } as any,
      } as any,
      plugins: [lowerPlugin],
    } as any);

    return () => {
      chartA.destroy();
      chartB.destroy();
    };
  }, []);

  return (
    <div
      style={{
        position: "fixed",
        left: 0,
        top: 0,
        width: 1890,
        height: 902,
        background: "#ffffff",
        overflow: "hidden",
        fontFamily: FONT,
      }}
    >
      <canvas
        ref={refA}
        width={1890}
        height={640}
        style={{ position: "absolute", left: 0, top: 0, width: 1890, height: 640 }}
      />
      <canvas
        ref={refB}
        width={1890}
        height={262}
        style={{ position: "absolute", left: 0, top: 640, width: 1890, height: 262 }}
      />
      <div
        style={{
          position: "absolute",
          left: 808,
          top: 2,
          fontSize: 8.7,
          lineHeight: "11px",
          color: "#50507a",
          whiteSpace: "nowrap",
        }}
      >
        {TITLE}
      </div>
      <div
        style={{
          position: "absolute",
          left: 732,
          top: 20,
          width: 207,
          height: 12,
          boxSizing: "border-box",
          border: "1.5px solid #000",
          background: "#fff",
          fontSize: 9.8,
          fontWeight: "bold",
          lineHeight: "9px",
          textAlign: "center",
          color: "#000",
          whiteSpace: "nowrap",
        }}
      >
        {COPYRIGHT}
      </div>
      <div
        style={{
          position: "absolute",
          left: 942,
          top: 403,
          width: 487,
          height: 162,
          boxSizing: "border-box",
          border: "1px solid #000",
          background: "#f0fff0",
          padding: "0 0 0 4px",
          fontSize: 13,
          fontWeight: "bold",
          lineHeight: "16px",
          color: "#000",
          whiteSpace: "nowrap",
          overflow: "visible",
        }}
      >
        {NOTE_LINES.map((t, i) => (
          <div key={i}>{t}</div>
        ))}
      </div>
      <div
        style={{
          position: "absolute",
          left: 1857,
          top: 871,
          width: 20,
          height: 8,
          boxSizing: "border-box",
          border: "1px solid #777",
          fontSize: 6,
          lineHeight: "6px",
          color: "#333",
          textAlign: "center",
          whiteSpace: "nowrap",
        }}
      >
        x1000
      </div>
    </div>
  );
}
